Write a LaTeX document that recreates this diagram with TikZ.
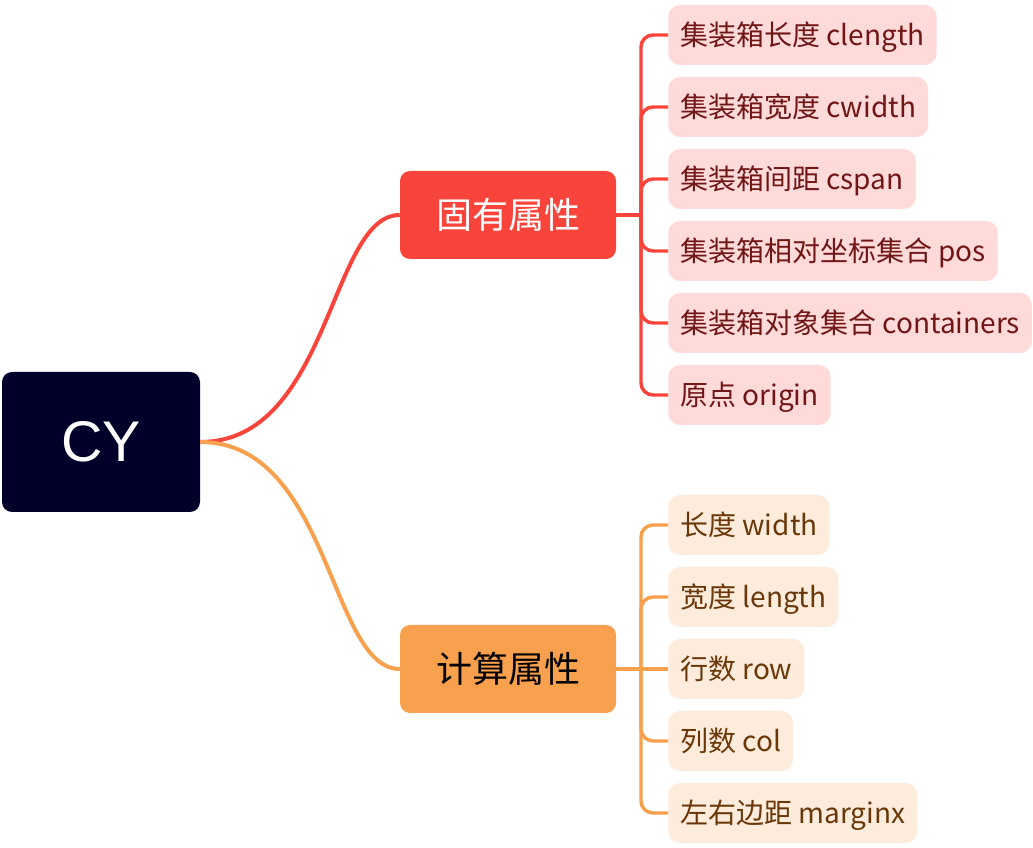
\documentclass[tikz,border=0pt]{standalone}
\usepackage{fontspec}
\usepackage{xcolor}
\usepackage{tikz}
\setmainfont{Noto Sans CJK SC}
\newfontfamily\raizfont{Liberation Sans}

\definecolor{azulraiz}{HTML}{00002A}
\definecolor{rojo}{HTML}{F9443C}
\definecolor{naranja}{HTML}{F7A04D}
\definecolor{rojoclaro}{HTML}{FEDAD8}
\definecolor{naranjaclaro}{HTML}{FDEBDC}
\definecolor{rojotexto}{HTML}{701616}
\definecolor{naranjatexto}{HTML}{6A3808}

\tikzset{
  raiz/.style={fill=azulraiz,text=white,rounded corners=7.5pt,
    minimum width=148.5pt,minimum height=105pt,font=\raizfont\fontsize{43}{50}\selectfont},
  padre/.style={rounded corners=7.5pt,minimum width=162pt,minimum height=66pt,
    font=\fontsize{27}{32}\selectfont},
  hijo/.style={anchor=west,rounded corners=9pt,minimum height=45pt,inner xsep=9pt,
    text height=18pt,text depth=2pt,font=\fontsize{21}{25}\selectfont},
  hijorojo/.style={hijo,fill=rojoclaro,text=rojotexto},
  hijonaranja/.style={hijo,fill=naranjaclaro,text=naranjatexto},
  rama/.style={line width=3pt},
  llave/.style={line width=2.6pt,rounded corners=9pt},
}

\begin{document}
\begin{tikzpicture}[x=0.75pt,y=-0.75pt]
    % Marco del dibujo (en píxeles)
    \useasboundingbox (0,0) rectangle (1033,848);

    % Nodo raíz
    \node[raiz] (cy) at (101,442) {CY};

    % Ramas principales
    \node[padre,fill=rojo,text=white] (fijo) at (508,215) {固有属性};
    \node[padre,fill=naranja,text=black] (calc) at (508,669) {计算属性};

    % Curvas desde la raíz
    \draw[rama,rojo] (cy.east) .. controls +(130,0) and +(-70,0) .. (fijo.west);
    \draw[rama,naranja] (cy.east) .. controls +(130,0) and +(-70,0) .. (calc.west);

    % Hojas de 固有属性
    \node[hijorojo] (f1) at (668,35) {集装箱长度 clength};
    \node[hijorojo] (f2) at (668,107) {集装箱宽度 cwidth};
    \node[hijorojo] (f3) at (668,179) {集装箱间距 cspan};
    \node[hijorojo] (f4) at (668,251) {集装箱相对坐标集合 pos};
    \node[hijorojo] (f5) at (668,323) {集装箱对象集合 containers};
    \node[hijorojo] (f6) at (668,395) {原点 origin};

    % Hojas de 计算属性
    \node[hijonaranja] (c1) at (668,525) {长度 width};
    \node[hijonaranja] (c2) at (668,597) {宽度 length};
    \node[hijonaranja] (c3) at (668,669) {行数 row};
    \node[hijonaranja] (c4) at (668,741) {列数 col};
    \node[hijonaranja] (c5) at (668,813) {左右边距 marginx};

    % Llaves (uniones)
    \coordinate (jf) at (641,215);
    \coordinate (jc) at (641,669);
    \draw[llave,rojo] (fijo.east) -- (jf);
    \draw[llave,rojo] (jf) |- (f1.west);
    \draw[llave,rojo] (jf) |- (f2.west);
    \draw[llave,rojo] (jf) |- (f3.west);
    \draw[llave,rojo] (jf) |- (f4.west);
    \draw[llave,rojo] (jf) |- (f5.west);
    \draw[llave,rojo] (jf) |- (f6.west);
    \draw[llave,naranja] (calc.east) -- (jc);
    \draw[llave,naranja] (jc) |- (c1.west);
    \draw[llave,naranja] (jc) |- (c2.west);
    \draw[llave,naranja] (jc) -- (c3.west);
    \draw[llave,naranja] (jc) |- (c4.west);
    \draw[llave,naranja] (jc) |- (c5.west);
\end{tikzpicture}
\end{document}
